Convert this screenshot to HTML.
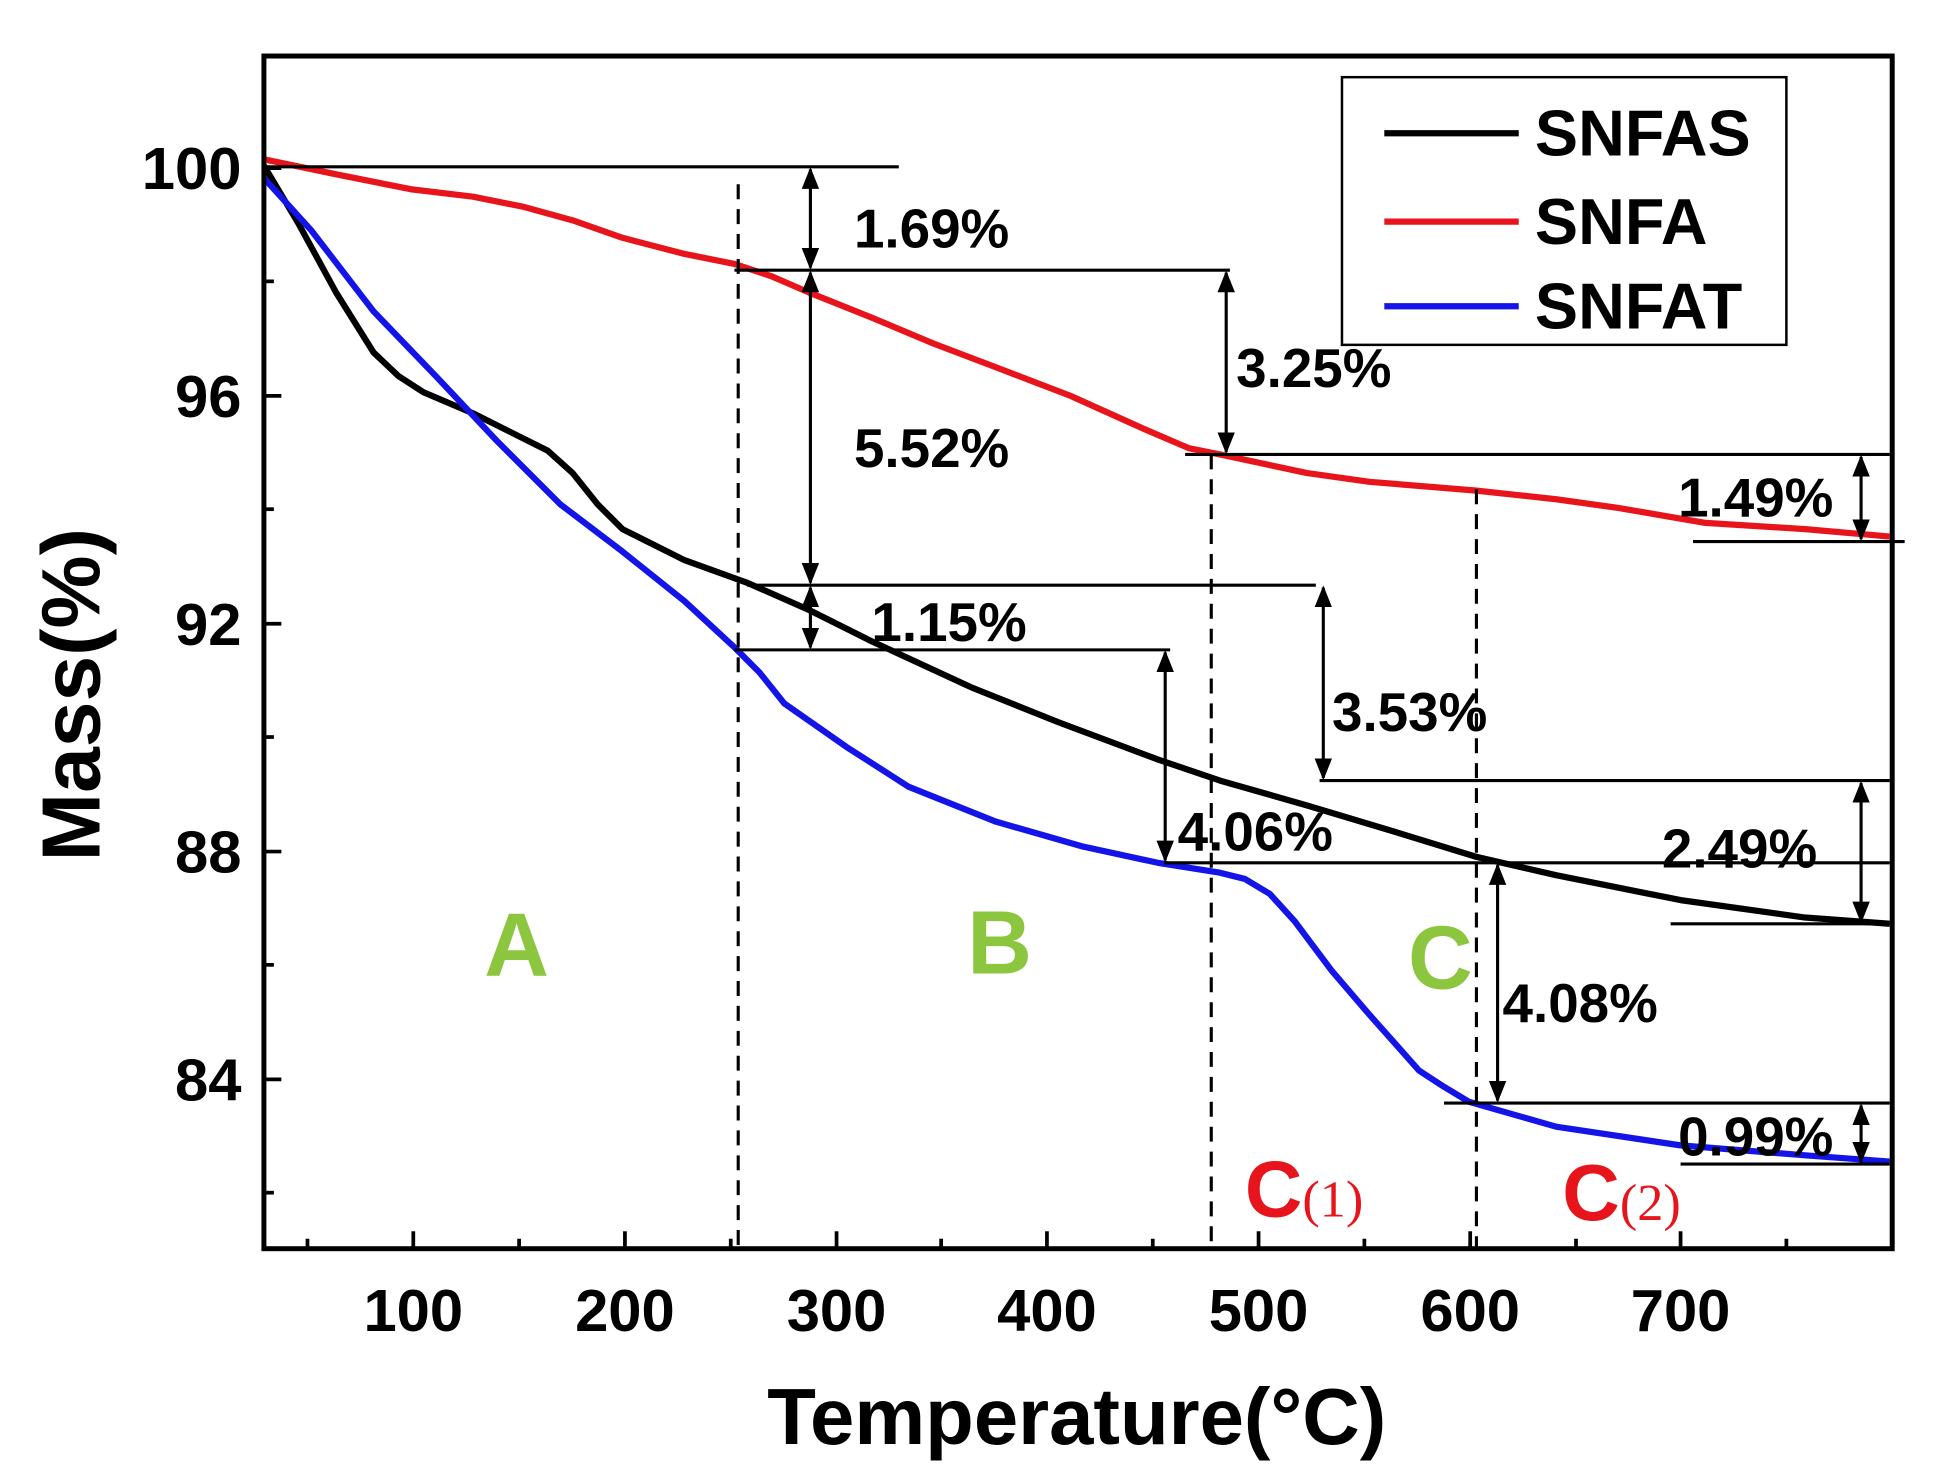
<!DOCTYPE html>
<html><head><meta charset="utf-8"><style>html,body{margin:0;padding:0;background:#fff}svg{display:block}</style></head>
<body>
<svg width="1942" height="1484" viewBox="0 0 1560 1192" preserveAspectRatio="none" xmlns="http://www.w3.org/2000/svg" font-family="Liberation Sans, Arial, sans-serif" font-weight="bold">
<defs>
<marker id="a" viewBox="0 0 10 10" refX="9" refY="5" markerWidth="7" markerHeight="7" orient="auto-start-reverse"><path d="M0,1 L10,5 L0,9 z" fill="#000"/></marker>
</defs>
<rect width="1560" height="1192" fill="#fff"/>
<polyline fill="none" stroke="#e8141b" stroke-width="5" stroke-linejoin="round" points="212,128 270,140 330,152 380,158 420,166 460,177 500,191 550,204 590,212 620,222 650,235 700,255 750,276 800,295 860,318 920,345 955,360 980,365 1050,380 1100,387 1185,394 1250,401 1300,408 1370,420 1450,425 1518,431"/>
<polyline fill="none" stroke="#000" stroke-width="5" stroke-linejoin="round" points="212,133 240,180 270,235 300,283 320,302 340,315 380,332 420,352 440,362 460,380 480,405 500,425 550,450 600,468 650,490 700,515 780,552 850,580 930,610 980,627 1050,647 1120,668 1185,688 1250,703 1350,723 1450,737 1518,742"/>
<polyline fill="none" stroke="#1414e8" stroke-width="5" stroke-linejoin="round" points="212,143 250,185 300,250 350,302 400,355 450,405 500,443 550,483 590,520 610,540 630,565 680,600 730,632 800,660 870,680 930,693 980,701 1000,706 1020,718 1040,740 1070,780 1100,815 1140,860 1160,873 1180,885 1250,905 1350,920 1450,928 1518,933"/>
<g stroke="#000" stroke-width="2.5" fill="none">
<line x1="212" y1="134" x2="722" y2="134"/>
<line x1="590" y1="217" x2="988" y2="217"/>
<line x1="952" y1="365" x2="1518" y2="365"/>
<line x1="1360" y1="435" x2="1530" y2="435"/>
<line x1="600" y1="470" x2="1057" y2="470"/>
<line x1="590" y1="522" x2="940" y2="522"/>
<line x1="1060" y1="627" x2="1518" y2="627"/>
<line x1="935" y1="693" x2="1518" y2="693"/>
<line x1="1342" y1="742" x2="1518" y2="742"/>
<line x1="1160" y1="886" x2="1518" y2="886"/>
<line x1="1350" y1="935" x2="1518" y2="935"/>
</g>
<g stroke="#000" stroke-width="2.5" stroke-dasharray="12,8">
<line x1="593" y1="148" x2="593" y2="1003"/>
<line x1="973" y1="365" x2="973" y2="1003"/>
<line x1="1186" y1="393" x2="1186" y2="1003"/>
</g>
<g stroke="#000" stroke-width="2.5" marker-start="url(#a)" marker-end="url(#a)">
<line x1="651" y1="136" x2="651" y2="215"/>
<line x1="651" y1="219" x2="651" y2="468"/>
<line x1="651" y1="472" x2="651" y2="520"/>
<line x1="985" y1="219" x2="985" y2="363"/>
<line x1="1063" y1="472" x2="1063" y2="625"/>
<line x1="1495" y1="367" x2="1495" y2="433"/>
<line x1="936" y1="524" x2="936" y2="691"/>
<line x1="1495" y1="629" x2="1495" y2="740"/>
<line x1="1203" y1="695" x2="1203" y2="884"/>
<line x1="1495" y1="888" x2="1495" y2="933"/>
</g>
<g font-size="44" fill="#000">
<text x="686" y="199">1.69%</text>
<text x="993" y="311">3.25%</text>
<text x="686" y="375">5.52%</text>
<text x="1348" y="415">1.49%</text>
<text x="700" y="515">1.15%</text>
<text x="1070" y="587">3.53%</text>
<text x="946" y="683">4.06%</text>
<text x="1335" y="697">2.49%</text>
<text x="1207" y="821">4.08%</text>
<text x="1348" y="928">0.99%</text>
</g>
<g font-size="72" fill="#8cc63f" text-anchor="middle">
<text x="415" y="784">A</text>
<text x="803" y="782">B</text>
<text x="1157" y="794">C</text>
</g>
<g fill="#e8141b">
<text x="1000" y="977" font-size="64">C<tspan font-family="Liberation Serif, serif" font-weight="normal" font-size="42">(1)</tspan></text>
<text x="1255" y="980" font-size="64">C<tspan font-family="Liberation Serif, serif" font-weight="normal" font-size="42">(2)</tspan></text>
</g>
<rect x="1078" y="62" width="357" height="215" fill="none" stroke="#000" stroke-width="2"/>
<g stroke-width="5">
<line x1="1112" y1="107" x2="1220" y2="107" stroke="#000"/>
<line x1="1112" y1="178" x2="1220" y2="178" stroke="#e8141b"/>
<line x1="1112" y1="246" x2="1220" y2="246" stroke="#1414e8"/>
</g>
<g font-size="52" fill="#000">
<text x="1233" y="125">SNFAS</text>
<text x="1233" y="196">SNFA</text>
<text x="1233" y="264">SNFAT</text>
</g>
<rect x="212" y="45" width="1308" height="958" fill="none" stroke="#000" stroke-width="4"/>
<g stroke="#000" stroke-width="3">
<line x1="332" y1="1003" x2="332" y2="989"/><line x1="502" y1="1003" x2="502" y2="989"/><line x1="672" y1="1003" x2="672" y2="989"/><line x1="841" y1="1003" x2="841" y2="989"/><line x1="1011" y1="1003" x2="1011" y2="989"/><line x1="1181" y1="1003" x2="1181" y2="989"/><line x1="1350" y1="1003" x2="1350" y2="989"/>
<line x1="247" y1="1003" x2="247" y2="995"/><line x1="417" y1="1003" x2="417" y2="995"/><line x1="587" y1="1003" x2="587" y2="995"/><line x1="756" y1="1003" x2="756" y2="995"/><line x1="926" y1="1003" x2="926" y2="995"/><line x1="1096" y1="1003" x2="1096" y2="995"/><line x1="1266" y1="1003" x2="1266" y2="995"/><line x1="1435" y1="1003" x2="1435" y2="995"/>
<line x1="212" y1="135" x2="226" y2="135"/><line x1="212" y1="318" x2="226" y2="318"/><line x1="212" y1="501" x2="226" y2="501"/><line x1="212" y1="684" x2="226" y2="684"/><line x1="212" y1="867" x2="226" y2="867"/>
<line x1="212" y1="226" x2="220" y2="226"/><line x1="212" y1="409" x2="220" y2="409"/><line x1="212" y1="592" x2="220" y2="592"/><line x1="212" y1="775" x2="220" y2="775"/><line x1="212" y1="958" x2="220" y2="958"/>
</g>
<g font-size="48" fill="#000" text-anchor="end">
<text x="194" y="152">100</text><text x="194" y="335">96</text><text x="194" y="518">92</text><text x="194" y="701">88</text><text x="194" y="884">84</text>
</g>
<g font-size="48" fill="#000" text-anchor="middle">
<text x="332" y="1069">100</text><text x="502" y="1069">200</text><text x="672" y="1069">300</text><text x="841" y="1069">400</text><text x="1011" y="1069">500</text><text x="1181" y="1069">600</text><text x="1350" y="1069">700</text>
</g>
<text x="865" y="1160" font-size="64" text-anchor="middle">Temperature(°C)</text>
<text transform="translate(80,558) rotate(-90)" font-size="66" text-anchor="middle">Mass(%)</text>
</svg>
</body></html>
